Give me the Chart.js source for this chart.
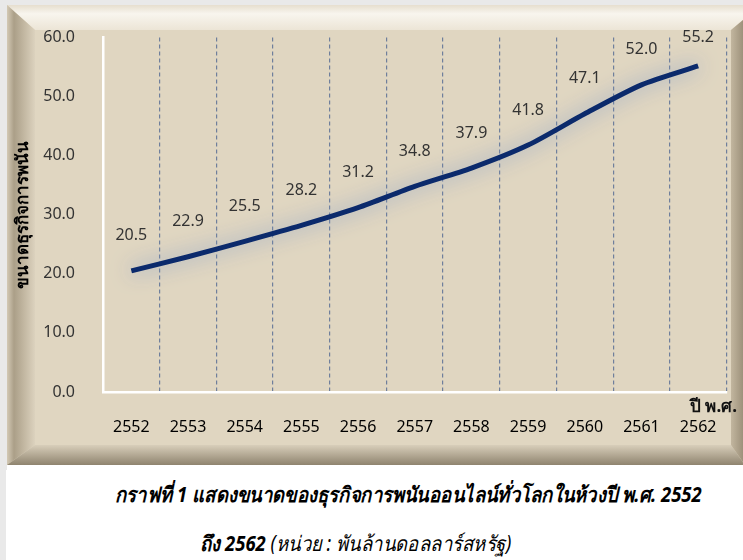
<!DOCTYPE html>
<html lang="th">
<head>
<meta charset="utf-8">
<script src="https://cdn.jsdelivr.net/npm/chart.js@4.4.1/dist/chart.umd.min.js"></script>
<style>
    html, body { margin: 0; padding: 0; background: #ffffff; }
    body { width: 743px; height: 560px; position: relative; overflow: hidden;
           font-family: 'Noto Sans', 'DejaVu Sans', sans-serif; }
    .edge { position: absolute; left: 0; top: 0; width: 6px; height: 560px; background: #e9e9e9; }
    .chart-box { position: absolute; left: 0; top: 0; width: 743px; height: 470px; }
    .x-title { position: absolute; left: 690px; top: 392px; font-size: 17px; font-weight: bold; color: #111; white-space: nowrap; }
    .caption { position: absolute; color: #000; font-style: italic; font-size: 21px; white-space: nowrap;
               transform: scaleX(0.88); transform-origin: left center; }
    .caption b { font-weight: bold; }
    .line1 { left: 115px; top: 478px; font-weight: bold; }
    .line2 { left: 200px; top: 527px; }
</style>
</head>
<body>
<div class="edge"></div>
<div class="chart-box"><canvas id="onlineGamblingChart" width="743" height="470"></canvas></div>
<div class="x-title">ปี พ.ศ.</div>
<div class="caption line1">กราฟที่ 1 แสดงขนาดของธุรกิจการพนันออนไลน์ทั่วโลกในห้วงปี พ.ศ. 2552</div>
<div class="caption line2"><b>ถึง 2562</b> (หน่วย : พันล้านดอลลาร์สหรัฐ)</div>
<script>
const years = ['2552', '2553', '2554', '2555', '2556', '2557', '2558', '2559', '2560', '2561', '2562'];
const marketSize = [20.5, 22.9, 25.5, 28.2, 31.2, 34.8, 37.9, 41.8, 47.1, 52.0, 55.2];
const yTicks = [0, 10, 20, 30, 40, 50, 60];

document.addEventListener('DOMContentLoaded', function () {
    const canvas = document.getElementById('onlineGamblingChart');

    if (typeof Chart === 'undefined') {
        return;
    }

    Chart.defaults.font.family = "'Noto Sans', 'DejaVu Sans', sans-serif";
    Chart.defaults.color = '#333333';

    // beveled beige panel behind the chart
    const panelPlugin = {
        id: 'panel',
        beforeDraw: function (chart) {
            const ctx = chart.ctx;
            const L = 7, T = 5, R = 745, B = 465;
            const il = 35, it = 30, ir = 731, ib = 445;
            ctx.save();
            ctx.fillStyle = '#e9e9e9';
            ctx.fillRect(0, 0, chart.width, T);
            ctx.fillRect(0, 0, L, chart.height);

            ctx.fillStyle = '#e0d6c1';
            ctx.fillRect(L, T, R - L, B - T);

            let g = ctx.createLinearGradient(0, T, 0, it);
            g.addColorStop(0, '#e6dece');
            g.addColorStop(0.35, '#f8f5ee');
            g.addColorStop(1, '#ece5d6');
            ctx.fillStyle = g;
            ctx.beginPath();
            ctx.moveTo(L, T); ctx.lineTo(R, T); ctx.lineTo(ir + 12, it - 10); ctx.lineTo(ir, it); ctx.lineTo(il, it);
            ctx.closePath(); ctx.fill();

            g = ctx.createLinearGradient(L, 0, il, 0);
            g.addColorStop(0, '#d3c9b5');
            g.addColorStop(0.25, '#ab9f88');
            g.addColorStop(1, '#dcd2be');
            ctx.fillStyle = g;
            ctx.beginPath();
            ctx.moveTo(L, T); ctx.lineTo(il, it); ctx.lineTo(il, ib); ctx.lineTo(L, B);
            ctx.closePath(); ctx.fill();

            g = ctx.createLinearGradient(0, ib, 0, B);
            g.addColorStop(0, '#d8ceba');
            g.addColorStop(1, '#8f846f');
            ctx.fillStyle = g;
            ctx.beginPath();
            ctx.moveTo(L, B); ctx.lineTo(il, ib); ctx.lineTo(ir, ib); ctx.lineTo(R, B);
            ctx.closePath(); ctx.fill();

            g = ctx.createLinearGradient(ir, 0, R, 0);
            g.addColorStop(0, '#c2b69f');
            g.addColorStop(1, '#978b75');
            ctx.fillStyle = g;
            ctx.beginPath();
            ctx.moveTo(ir, it); ctx.lineTo(ir + 12, it - 10); ctx.lineTo(R, B); ctx.lineTo(ir, ib);
            ctx.closePath(); ctx.fill();
            ctx.restore();
        }
    };

    // soft glow under the line
    const glowPlugin = {
        id: 'glow',
        beforeDatasetDraw: function (chart) {
            chart.ctx.save();
            chart.ctx.shadowColor = 'rgba(120, 150, 200, 0.9)';
            chart.ctx.shadowBlur = 20;
        },
        afterDatasetDraw: function (chart) {
            chart.ctx.restore();
        }
    };

    // value labels above each point
    const valueLabels = {
        id: 'valueLabels',
        afterDatasetsDraw: function (chart) {
            const ctx = chart.ctx;
            const meta = chart.getDatasetMeta(0);
            ctx.save();
            ctx.font = "16px 'Noto Sans', 'DejaVu Sans', sans-serif";
            ctx.fillStyle = '#333333';
            ctx.textAlign = 'center';
            ctx.textBaseline = 'middle';
            meta.data.forEach(function (pt, i) {
                const y = Math.max(pt.y - 35, chart.chartArea.top);
                ctx.fillText(marketSize[i].toFixed(1), pt.x, y);
            });
            ctx.restore();
        }
    };

    new Chart(canvas, {
        type: 'line',
        data: {
            labels: years,
            datasets: [
                {
                    data: marketSize,
                    borderColor: '#0b2a6c',
                    borderWidth: 5,
                    tension: 0.25,
                    pointRadius: 0,
                    fill: false
                }
            ]
        },
        options: {
            responsive: false,
            animation: false,
            layout: {
                padding: { top: 26, right: 12, left: 0, bottom: 0 }
            },
            scales: {
                x: {
                    offset: true,
                    afterFit: function (scale) { scale.height = 78; },
                    grid: {
                        offset: true,
                        drawTicks: false,
                        color: function (c) { return c.index === 0 ? 'rgba(0,0,0,0)' : '#6f7f9c'; },
                        lineWidth: 1.2
                    },
                    border: { color: '#ffffff', width: 2.5, dash: [4, 3] },
                    ticks: {
                        color: '#000000',
                        padding: 26,
                        font: { size: 16 }
                    }
                },
                y: {
                    min: 0,
                    max: 60,
                    afterFit: function (scale) { scale.width = 103; },
                    afterBuildTicks: function (scale) {
                        scale.ticks = yTicks.map(function (v) { return { value: v }; });
                    },
                    grid: { display: false, drawTicks: false },
                    border: { color: '#ffffff', width: 2.5 },
                    ticks: {
                        color: '#333333',
                        padding: 28,
                        font: { size: 16 },
                        callback: function (v) { return Number(v).toFixed(1); }
                    },
                    title: {
                        display: true,
                        text: 'ขนาดธุรกิจการพนัน',
                        color: '#000000',
                        padding: { top: 13, bottom: 0 },
                        font: { size: 17, weight: 'bold' }
                    }
                }
            },
            plugins: {
                legend: { display: false },
                tooltip: { enabled: false }
            }
        },
        plugins: [panelPlugin, glowPlugin, valueLabels]
    });
});
</script>
</body>
</html>
